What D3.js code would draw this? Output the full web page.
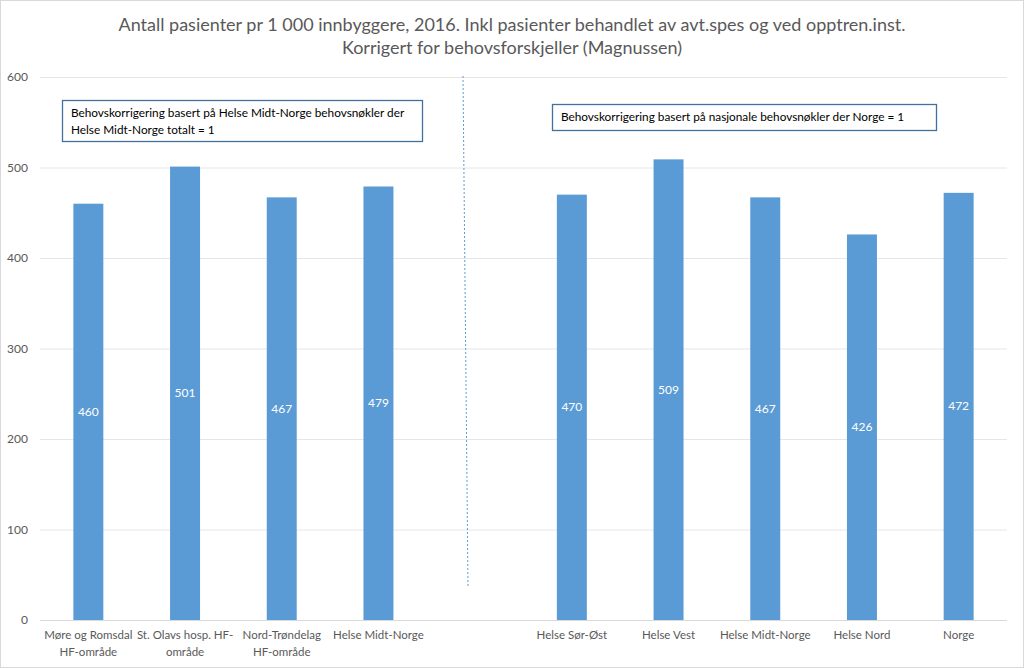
<!DOCTYPE html>
<html><head><meta charset="utf-8">
<script src="https://cdn.jsdelivr.net/npm/d3@7"></script>
<style>body{margin:0;background:#fff;font-family:Lato,"Open Sans",sans-serif;}</style>
</head><body><svg id="c" width="1024" height="668"></svg>
<script>
const categories = ["Møre og Romsdal\nHF-område","St. Olavs hosp. HF-\nområde","Nord-Trøndelag\nHF-område","Helse Midt-Norge","", "Helse Sør-Øst","Helse Vest","Helse Midt-Norge ","Helse Nord","Norge"];
const values = [460,501,467,479,null,470,509,467,426,472];
const yTicks = [0,100,200,300,400,500,600];
const titleLines = ["Antall pasienter pr 1 000 innbyggere, 2016. Inkl pasienter behandlet av avt.spes og ved opptren.inst.","Korrigert for behovsforskjeller (Magnussen)"];
const noteLeft = ["Behovskorrigering basert på Helse Midt-Norge behovsnøkler der","Helse Midt-Norge totalt = 1"];
const noteRight = ["Behovskorrigering basert på nasjonale behovsnøkler der Norge = 1"];

const svg = d3.select("#c");
svg.append("rect").attr("x",0.5).attr("y",0.5).attr("width",1023).attr("height",667).attr("fill","#fff").attr("stroke","#d9d9d9");
const x = d3.scaleBand().domain(categories.map((d,i)=>i)).range([40,1007]).paddingInner(0.69).paddingOuter(0.345);
const y = d3.scaleLinear().domain([0,600]).range([620,77]);

svg.append("g").selectAll("line").data(yTicks).join("line")
  .attr("x1",40).attr("x2",1007).attr("y1",d=>y(d)+0.5).attr("y2",d=>y(d)+0.5)
  .attr("stroke",d=>d===0?"#d9d9d9":"#e6e6e6").attr("stroke-width",1);
svg.append("g").selectAll("text").data(yTicks).join("text")
  .attr("x",28).attr("y",d=>y(d)+4).attr("text-anchor","end").attr("font-size",12).attr("fill","#595959").text(d=>d);

const T = svg.append("text").attr("text-anchor","middle").attr("font-size",18).attr("fill","#595959");
titleLines.forEach((l,i)=>T.append("tspan").attr("x",512).attr("y",31+i*23).text(l));

// divider
svg.append("line").attr("x1",463).attr("y1",76).attr("x2",468).attr("y2",588)
  .attr("stroke","#5b9bd5").attr("stroke-width",1).attr("stroke-dasharray","2,2");

const data = categories.map((c,i)=>({c,i,v:values[i]})).filter(d=>d.v!=null);
svg.append("g").selectAll("rect").data(data).join("rect")
  .attr("x",d=>x(d.i)).attr("width",x.bandwidth()).attr("y",d=>y(d.v)).attr("height",d=>y(0)-y(d.v)).attr("fill","#5b9bd5");
svg.append("g").selectAll("text").data(data).join("text")
  .attr("x",d=>x(d.i)+x.bandwidth()/2).attr("y",d=>(y(d.v)+y(0))/2+4).attr("text-anchor","middle")
  .attr("font-size",12).attr("fill","#fff").text(d=>d.v);

const xl = svg.append("g");
categories.forEach((c,i)=>{
  if(!c) return;
  const t = xl.append("text").attr("text-anchor","middle").attr("font-size",11.5).attr("fill","#595959");
  c.split("\n").forEach((l,j)=>t.append("tspan").attr("x",x(i)+x.bandwidth()/2).attr("y",639+j*17).text(l.trim()));
});

function note(x0,y0,w,h,lines){
  svg.append("rect").attr("x",x0+0.5).attr("y",y0+0.5).attr("width",w).attr("height",h).attr("fill","#fff").attr("stroke","#41719c").attr("stroke-width",1.3);
  const t = svg.append("text").attr("font-size",11.8).attr("fill","#000");
  lines.forEach((l,j)=>t.append("tspan").attr("x",x0+9).attr("y",y0+17+j*17).text(l));
}
note(62,100,360,41,noteLeft);
note(552,104,384,26,noteRight);
</script></body></html>
